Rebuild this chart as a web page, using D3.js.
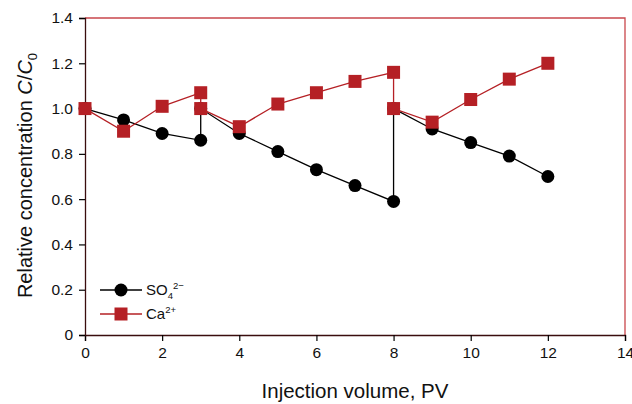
<!DOCTYPE html>
<html lang="en">
<head>
<meta charset="UTF-8">
<title>Relative concentration vs injection volume</title>
<script src="https://d3js.org/d3.v7.min.js"></script>
<style>
  body { margin: 0; background: #fff; }
  svg { font-family: "Liberation Sans", Arial, sans-serif; }
</style>
</head>
<body>
<svg width="632" height="404"></svg>
<script>
// data (x in PV, y = C/C0); repeated x = reset of the column
const pv      = [0, 1, 2, 3, 3, 4, 5, 6, 7, 8, 8, 9, 10, 11, 12];
const sulfate = [1.0, 0.95, 0.89, 0.86, 1.0, 0.89, 0.81, 0.73, 0.66, 0.59, 1.0, 0.91, 0.85, 0.79, 0.70];
const calcium = [1.0, 0.90, 1.01, 1.07, 1.0, 0.92, 1.02, 1.07, 1.12, 1.16, 1.0, 0.94, 1.04, 1.13, 1.20];
const xTicks = [0, 2, 4, 6, 8, 10, 12, 14];
const yTicks = [0, 0.2, 0.4, 0.6, 0.8, 1.0, 1.2, 1.4];

const red = "#b52025";
const margin = { top: 18, right: 7, bottom: 69, left: 85 };
const width = 632 - margin.left - margin.right;
const height = 404 - margin.top - margin.bottom;

const svg = d3.select("svg")
  .append("g")
    .attr("transform", `translate(${margin.left},${margin.top})`);

const x = d3.scaleLinear().domain([0, 14]).range([0, width]);
const y = d3.scaleLinear().domain([0, 1.4]).range([height, 0]);

// frame: top and right in red
svg.append("path")
    .attr("d", `M0,0H${width}V${height}`)
    .attr("fill", "none")
    .attr("stroke", "#c9474c")
    .attr("stroke-width", 1.3);

// axes
const xAxis = svg.append("g")
    .attr("transform", `translate(0,${height})`)
    .call(d3.axisBottom(x).tickValues(xTicks).tickSize(6).tickPadding(6).tickFormat(d3.format("d")));
const yAxis = svg.append("g")
    .call(d3.axisLeft(y).tickValues(yTicks).tickSize(6).tickPadding(6)
      .tickFormat(d => d === 0 ? "0" : d3.format(".1f")(d)));

[xAxis, yAxis].forEach(a => {
  a.select(".domain").attr("stroke", "#3a0d0e").attr("stroke-width", 1.3);
  a.selectAll(".tick line").attr("stroke", "#000").attr("stroke-width", 1.2);
  a.selectAll(".tick text").attr("fill", "#111").style("font-size", "15.5px")
    .style("font-family", "'Liberation Sans', Arial, sans-serif");
});

// axis titles
svg.append("text")
    .attr("x", width / 2)
    .attr("y", height + 63)
    .attr("text-anchor", "middle")
    .style("font-size", "20.5px")
    .attr("fill", "#111")
    .text("Injection volume, PV");

const yTitle = svg.append("text")
    .attr("transform", `translate(${-53},${height / 2 - 1}) rotate(-90)`)
    .attr("text-anchor", "middle")
    .style("font-size", "20px")
    .attr("fill", "#111");
yTitle.append("tspan").text("Relative concentration ");
yTitle.append("tspan").style("font-style", "italic").text("C");
yTitle.append("tspan").text("/");
yTitle.append("tspan").style("font-style", "italic").text("C");
yTitle.append("tspan").attr("dy", 5).style("font-size", "13px").text("0");

const pts = vals => pv.map((p, i) => ({ p, v: vals[i] }));
const line = d3.line().x(d => x(d.p)).y(d => y(d.v));

// sulfate series
svg.append("path")
    .datum(pts(sulfate))
    .attr("fill", "none")
    .attr("stroke", "#000")
    .attr("stroke-width", 1.3)
    .attr("d", line);
svg.selectAll(".so4")
    .data(pts(sulfate))
  .enter().append("circle")
    .attr("class", "so4")
    .attr("cx", d => x(d.p))
    .attr("cy", d => y(d.v))
    .attr("r", 6.5)
    .attr("fill", "#000");

// calcium series
svg.append("path")
    .datum(pts(calcium))
    .attr("fill", "none")
    .attr("stroke", red)
    .attr("stroke-width", 1.3)
    .attr("d", line);
svg.selectAll(".ca")
    .data(pts(calcium))
  .enter().append("rect")
    .attr("class", "ca")
    .attr("x", d => x(d.p) - 6.5)
    .attr("y", d => y(d.v) - 6.5)
    .attr("width", 13)
    .attr("height", 13)
    .attr("fill", red);

// legend
const legend = svg.append("g").attr("transform", "translate(15,272)");
const items = [
  { color: "#000", shape: "circle", label: ["SO", "4", "2\u2212"] },
  { color: red, shape: "square", label: ["Ca", "", "2+"] }
];
items.forEach((it, i) => {
  const g = legend.append("g").attr("transform", `translate(0,${i * 24})`);
  g.append("line").attr("x1", 0).attr("x2", 42).attr("stroke", it.color).attr("stroke-width", 1.3);
  if (it.shape === "circle") {
    g.append("circle").attr("cx", 21).attr("r", 6.5).attr("fill", it.color);
  } else {
    g.append("rect").attr("x", 14.5).attr("y", -6.5).attr("width", 13).attr("height", 13).attr("fill", it.color);
  }
  const t = g.append("text").attr("x", 46).attr("y", 5).style("font-size", "15px").attr("fill", "#111");
  t.append("tspan").text(it.label[0]);
  if (it.label[1]) t.append("tspan").attr("dy", 4).style("font-size", "9.5px").text(it.label[1]);
  t.append("tspan").attr("dy", it.label[1] ? -10 : -6).style("font-size", "9.5px").text(it.label[2]);
});
</script>
</body>
</html>
